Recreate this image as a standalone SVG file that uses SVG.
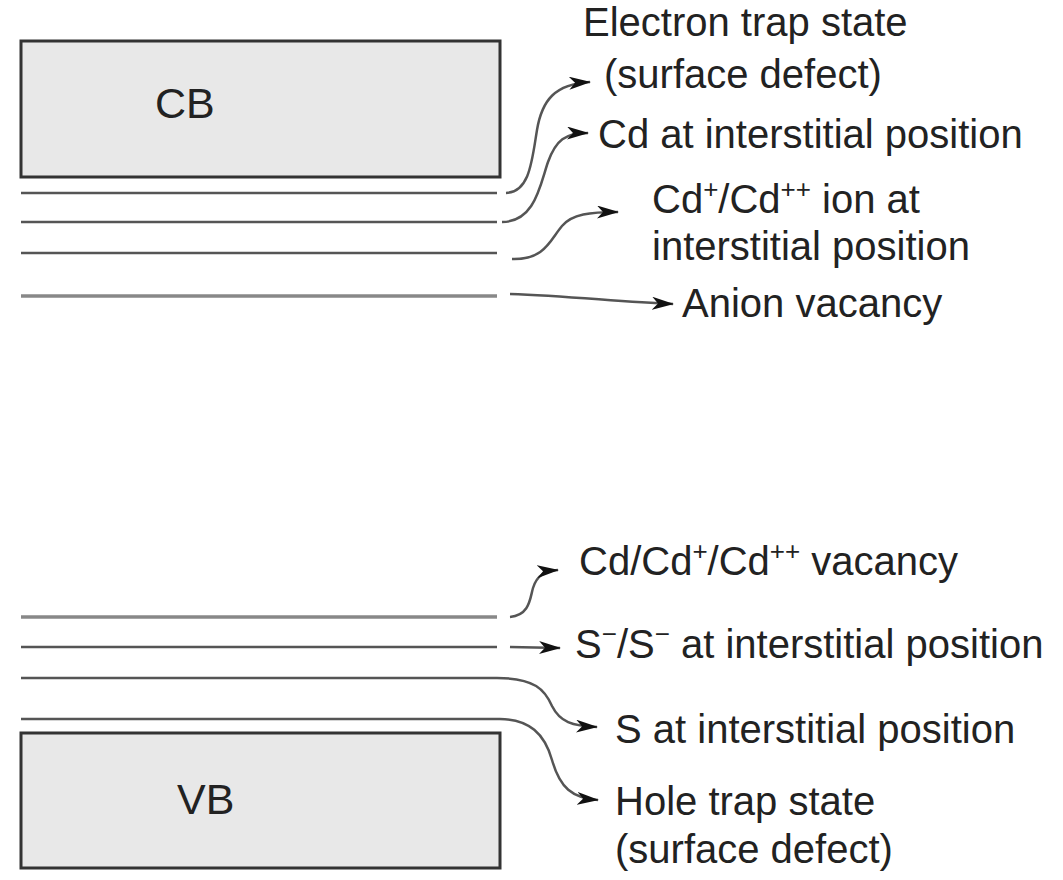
<svg xmlns="http://www.w3.org/2000/svg" width="1063" height="880" viewBox="0 0 1063 880">
<style>
.band{fill:#e8e8e8;stroke:#333;stroke-width:3}
.lvl{stroke:#555;stroke-width:2.5;fill:none}
.lvl2{stroke:#888;stroke-width:3.5;fill:none}
.con{stroke:#555;stroke-width:2.5;fill:none;marker-end:url(#ah)}
.lab{font-family:"Liberation Sans",Arial,sans-serif;font-size:40px;fill:#222}
.big{font-family:"Liberation Sans",Arial,sans-serif;font-size:43px;fill:#222}
</style>
<defs>
<marker id="ah" viewBox="0 0 22 13" refX="21" refY="6.5" markerWidth="22" markerHeight="13" markerUnits="userSpaceOnUse" orient="auto">
<path d="M0,0 L22,6.5 L0,13 L6,6.5 Z" fill="#111"/>
</marker>
</defs>
<rect width="1063" height="880" fill="#fff"/>
<g id="CB">
<rect class="band" x="21" y="41" width="479" height="136"/>
<text class="big" x="155" y="118">CB</text>
</g>
<g id="VB">
<rect class="band" x="21" y="733" width="479" height="135"/>
<text class="big" x="177" y="814">VB</text>
</g>
<g id="levels">
<line class="lvl" x1="21" y1="193" x2="497" y2="193"/>
<line class="lvl" x1="21" y1="222" x2="497" y2="222"/>
<line class="lvl" x1="21" y1="253" x2="497" y2="253"/>
<line class="lvl2" x1="21" y1="296" x2="497" y2="296"/>
<line class="lvl2" x1="21" y1="617" x2="497" y2="617"/>
<line class="lvl" x1="21" y1="647" x2="497" y2="647"/>
<line class="lvl" x1="21" y1="678" x2="497" y2="678"/>
<line class="lvl" x1="21" y1="719" x2="497" y2="719"/>
</g>
<g id="connectors">
<path class="con" d="M506,193 C530,192 532,160 537,130 C542,100 555,84 590,82"/>
<path class="con" d="M502,222 C535,222 540,185 548,162 C556,140 565,133 588,133"/>
<path class="con" d="M512,259 C545,260 550,240 562,226 C572,214 590,212 618,212"/>
<path class="con" d="M510,294 C570,296 620,302 673,304"/>
<path class="con" d="M510,617 C530,615 530,598 533,588 C537,575 545,571 558,570"/>
<path class="con" d="M510,647 L560,648"/>
<path class="con" d="M497,678 C535,678 545,690 552,706 C560,722 572,726 597,727"/>
<path class="con" d="M497,719 C530,718 545,735 552,760 C560,788 572,798 598,800"/>
</g>
<g id="labels">
<text class="lab" x="583" y="36">Electron trap state</text>
<text class="lab" x="604" y="88">(surface defect)</text>
<text class="lab" x="598" y="148">Cd at interstitial position</text>
<text class="lab" x="652" y="213">Cd<tspan font-size="26" dy="-15">+</tspan><tspan dy="15">/Cd</tspan><tspan font-size="26" dy="-15">++</tspan><tspan dy="15"> ion at</tspan></text>
<text class="lab" x="652" y="260">interstitial position</text>
<text class="lab" x="682" y="317">Anion vacancy</text>
<text class="lab" x="579" y="575">Cd/Cd<tspan font-size="26" dy="-15">+</tspan><tspan dy="15">/Cd</tspan><tspan font-size="26" dy="-15">++</tspan><tspan dy="15"> vacancy</tspan></text>
<text class="lab" x="575" y="658">S<tspan font-size="26" dy="-15">−</tspan><tspan dy="15">/S</tspan><tspan font-size="26" dy="-15">−</tspan><tspan dy="15"> at interstitial position</tspan></text>
<text class="lab" x="615" y="743">S at interstitial position</text>
<text class="lab" x="615" y="815">Hole trap state</text>
<text class="lab" x="615" y="863">(surface defect)</text>
</g>
</svg>
